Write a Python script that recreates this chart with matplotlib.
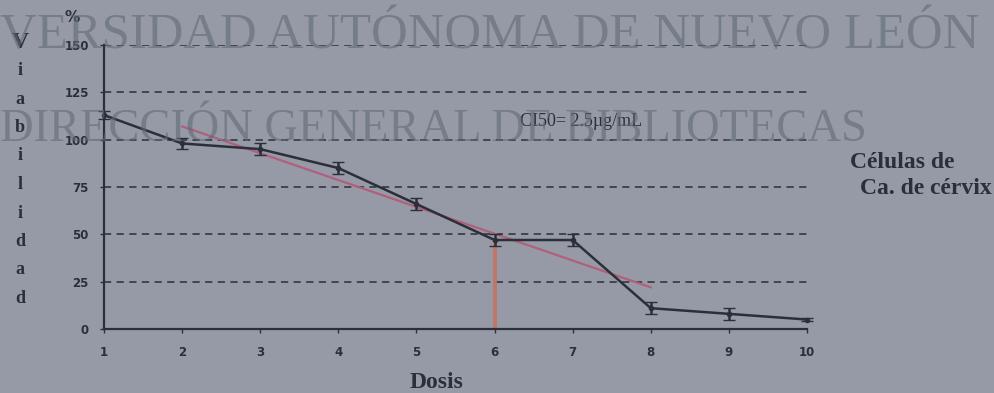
import numpy as np
import matplotlib.pyplot as plt

# data
dosis = [1, 2, 3, 4, 5, 6, 7, 8, 9, 10]
viabilidad = [113, 98, 95, 85, 66, 47, 47, 11, 8, 5]
error = [2, 3, 3, 3, 3, 3, 3, 3, 3, 1]
trend_x = [2, 8]
trend_y = [107, 22]
ic50_x = 6
ic50_y = 47
y_ticks = [0, 25, 50, 75, 100, 125, 150]

ink = '#2b2f38'
bg = '#969aa7'

fig = plt.figure(figsize=(9.95, 3.93), dpi=100)
fig.patch.set_facecolor(bg)
ax = fig.add_axes([104 / 995, 1 - 329 / 393, (807 - 104) / 995, (329 - 45) / 393])
ax.set_facecolor('none')

ax.set_xlim(1, 10)
ax.set_ylim(0, 150)

# dashed reference lines
for v in y_ticks[1:]:
    ax.axhline(v, color=ink, lw=1.3, ls=(0, (4, 3)), alpha=0.85, zorder=1)

# red IC50 drop line and fitted trend
ax.plot([ic50_x, ic50_x], [0, ic50_y], color='#c8705c', lw=3, alpha=0.8, zorder=2)
ax.plot(trend_x, trend_y, color='#b0607a', lw=1.6, zorder=3)

ax.errorbar(dosis, viabilidad, yerr=error, color=ink, lw=1.8, capsize=4,
            marker='o', ms=3, zorder=4, clip_on=False)

for s in ['top', 'right']:
    ax.spines[s].set_visible(False)
ax.spines['left'].set_color(ink)
ax.spines['bottom'].set_color(ink)
ax.spines['left'].set_linewidth(1.6)
ax.spines['bottom'].set_linewidth(1.6)

ax.set_xticks(dosis)
ax.set_yticks(y_ticks)
ax.tick_params(colors=ink, labelsize=8.5, length=3, width=1)
ax.tick_params(axis='x', pad=9)
ax.tick_params(axis='y', pad=8)
for lbl in ax.get_xticklabels() + ax.get_yticklabels():
    lbl.set_fontweight('bold')

serif = 'Liberation Serif'
fig.text(72 / 995, 1 - 18 / 393, '%', fontsize=11, fontweight='bold', color=ink,
         ha='center', va='center', family='DejaVu Sans')
for i, ch in enumerate('Viabilidad'):
    fig.text(20 / 995, 1 - (42 + i * 28.5) / 393, ch, fontsize=17 if i == 0 else 13,
             fontweight='bold', color=ink, ha='center', va='center', family=serif)

fig.text(437 / 995, 1 - 382 / 393, 'Dosis', fontsize=17, fontweight='bold', color=ink,
         ha='center', va='center', family=serif)
fig.text(520 / 995, 1 - 122 / 393, 'CI50= 2.5µg/mL', fontsize=13, color=ink,
         ha='left', va='center', family=serif)
fig.text(955 / 995, 1 - 163 / 393, 'Células de', fontsize=17, fontweight='bold', color=ink,
         ha='right', va='center', family=serif)
fig.text(992 / 995, 1 - 188 / 393, 'Ca. de cérvix', fontsize=17, fontweight='bold', color=ink,
         ha='right', va='center', family=serif)

# library watermark over the scan
wm = '#5f6a75'
fig.text(0, 1 - 36 / 393, 'VERSIDAD AUTÓNOMA DE NUEVO LEÓN', fontsize=36.5, color=wm,
         alpha=0.6, ha='left', va='center', family=serif)
fig.text(0, 1 - 130 / 393, 'DIRECCIÓN GENERAL DE BIBLIOTECAS', fontsize=33.5, color=wm,
         alpha=0.6, ha='left', va='center', family=serif)

fig.savefig('out.png', dpi=100, facecolor=bg)
